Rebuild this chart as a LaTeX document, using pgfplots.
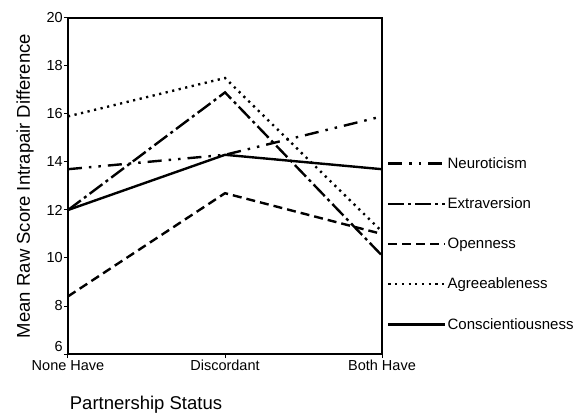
\documentclass[border=0pt]{standalone}
\usepackage{fontspec}
\setmainfont{Liberation Sans}
\usepackage{pgfplots}
\pgfplotsset{compat=1.18}
\begin{document}
\begin{tikzpicture}[x=1pt,y=1pt]
\useasboundingbox (0,0) rectangle (584,418);
\begin{axis}[
  at={(68pt,64pt)}, anchor=south west,
  scale only axis, width=314pt, height=336pt,
  xmin=0, xmax=2, ymin=6, ymax=20,
  xtick={0,1,2}, xticklabels={None Have,Discordant,Both Have},
  ytick={8,10,...,20},
  extra y ticks={6},
  extra y tick style={yticklabel style={yshift=7pt}},
  tick align=outside, tick pos=left,
  major tick length=4pt,
  /pgf/number format/assume math mode=true,
  tick label style={font=\fontsize{14.5}{16}\selectfont},
  yticklabel style={inner xsep=1pt},
  xticklabel style={inner ysep=2pt},
  ylabel={Mean Raw Score Intrapair Difference},
  ylabel style={font=\fontsize{18.5}{20}\selectfont, at={(axis description cs:-0.137,0.5)}, anchor=center},
  axis line style={line width=1.2pt},
  every tick/.style={black, line width=1pt},
  legend style={draw=none, fill=none, at={(1.016,0.598)}, anchor=north west,
    font=\fontsize{15}{17}\selectfont, row sep=24pt, inner xsep=0pt,
    nodes={inner xsep=1pt}},
  legend cell align=left,
  legend image code/.code={\draw[#1] (0pt,0pt) -- (57pt,0pt);},
]
\addplot[black, line width=2.4pt, dash pattern=on 14pt off 7pt on 2.5pt off 7pt on 2.5pt off 7pt] coordinates {(0,13.7) (1,14.3) (2,15.9)};
\addlegendentry{Neuroticism}
\addplot[black, line width=2.4pt, dash pattern=on 16pt off 4pt on 3pt off 4pt] coordinates {(0,12.0) (1,16.9) (2,10.1)};
\addlegendentry{Extraversion}
\addplot[black, line width=2.4pt, dash pattern=on 9pt off 5pt] coordinates {(0,8.4) (1,12.7) (2,11.0)};
\addlegendentry{Openness}
\addplot[black, line width=2.4pt, dash pattern=on 2.2pt off 4.5pt] coordinates {(0,15.9) (1,17.5) (2,11.1)};
\addlegendentry{Agreeableness}
\addplot[black, line width=2.4pt, solid] coordinates {(0,12.0) (1,14.3) (2,13.7)};
\addlegendentry{Conscientiousness}
\end{axis}
\node[font=\fontsize{18.5}{20}\selectfont] at (146,13) {Partnership Status};
\end{tikzpicture}
\end{document}
